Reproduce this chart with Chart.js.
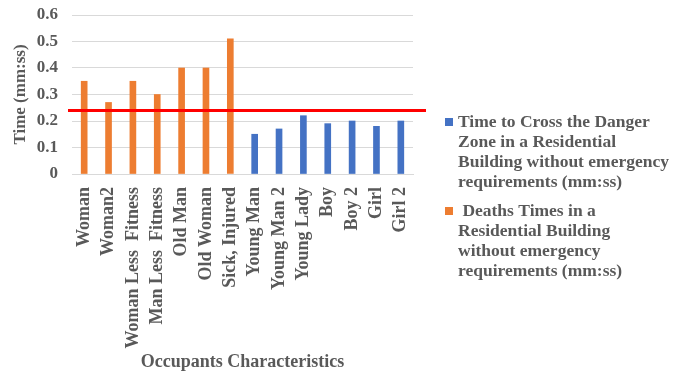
<!DOCTYPE html>
<html>
<head>
<meta charset="utf-8">
<script src="https://cdn.jsdelivr.net/npm/chart.js@4/dist/chart.umd.min.js"></script>
<style>
  html, body { margin: 0; padding: 0; background: #fff; }
  #wrap { width: 685px; height: 371px; }
</style>
</head>
<body>
<div id="wrap"><canvas id="occChart" width="685" height="371"></canvas></div>
<script>
const categories = ["Woman", "Woman2", "Woman Less  Fitness", "Man Less  Fitness", "Old Man", "Old Woman", "Sick, Injured",
  "Young Man", "Young Man 2", "Young Lady", "Boy", "Boy 2", "Girl", "Girl 2"];
const crossTimes = [null, null, null, null, null, null, null, 0.15, 0.17, 0.22, 0.19, 0.2, 0.18, 0.2];
const deathTimes = [0.35, 0.27, 0.35, 0.3, 0.4, 0.4, 0.51, null, null, null, null, null, null, null];
const yTicks = [0, 0.1, 0.2, 0.3, 0.4, 0.5, 0.6];
const thresholdValue = 0.24;
const crossLabel = ["Time to Cross the Danger", "Zone in a Residential", "Building without emergency", "requirements (mm:ss)"];
const deathLabel = [" Deaths Times in a", "Residential Building", "without emergency", "requirements (mm:ss)"];

const textGray = "#595959";
const fontFamily = "'Liberation Serif', 'Times New Roman', serif";
const serifBold = { family: fontFamily, size: 17, weight: "bold" };

// red reference line across the plot
const thresholdLine = {
  id: "thresholdLine",
  afterDatasetsDraw(chart) {
    const { ctx, chartArea, scales } = chart;
    const y = Math.round(scales.y.getPixelForValue(thresholdValue)) + 0.5;
    ctx.save();
    ctx.strokeStyle = "#ff0000";
    ctx.lineWidth = 3;
    ctx.beginPath();
    ctx.moveTo(chartArea.left - 4, y);
    ctx.lineTo(chartArea.right + 13, y);
    ctx.stroke();
    ctx.restore();
  }
};

// legend with wrapped lines, drawn at the right side
const sideLegend = {
  id: "sideLegend",
  afterDraw(chart) {
    const ctx = chart.ctx;
    const x0 = 445, lineH = 20;
    let y = 122;
    ctx.save();
    ctx.font = "bold 17.5px " + fontFamily;
    ctx.textBaseline = "middle";
    chart.data.datasets.forEach(ds => {
      ctx.fillStyle = ds.backgroundColor;
      ctx.fillRect(x0, y - 4, 8, 8);
      ctx.fillStyle = textGray;
      ds.legendLines.forEach((line, i) => {
        ctx.fillText(line, x0 + 13, y + i * lineH);
      });
      y += ds.legendLines.length * lineH + 9;
    });
    ctx.restore();
  }
};

new Chart(document.getElementById("occChart").getContext("2d"), {
  type: "bar",
  data: {
    labels: categories,
    datasets: [{
      label: crossLabel.join(" "),
      legendLines: crossLabel,
      data: crossTimes,
      backgroundColor: "#4472c4",
      barThickness: 6,
      skipNull: true
    }, {
      label: deathLabel.join(" "),
      legendLines: deathLabel,
      data: deathTimes,
      backgroundColor: "#ed7d31",
      barThickness: 6,
      skipNull: true
    }]
  },
  options: {
    responsive: false,
    animation: false,
    layout: { padding: { left: 0, right: 272, top: 15, bottom: 0 } },
    plugins: {
      legend: { display: false },
      tooltip: { enabled: false }
    },
    scales: {
      x: {
        afterFit(axis) { axis.height = 197; },
        grid: { display: false, drawTicks: false },
        border: { color: "#d9d9d9" },
        ticks: { color: textGray, font: { family: fontFamily, size: 18, weight: "bold" }, minRotation: 90, maxRotation: 90, padding: 13, autoSkip: false },
        title: { display: true, text: "Occupants Characteristics", color: textGray, font: { family: fontFamily, size: 18, weight: "bold", lineHeight: 1 }, padding: { top: 10, bottom: 0 } }
      },
      y: {
        min: 0,
        max: 0.6,
        afterFit(axis) { axis.width = 72; axis.paddingTop = 0; },
        afterBuildTicks(axis) { axis.ticks = yTicks.map(v => ({ value: v })); },
        grid: { color: "#d9d9d9", drawTicks: false },
        border: { display: false },
        ticks: { color: textGray, font: serifBold, padding: 14, callback: v => String(v) },
        title: { display: true, text: "Time (mm:ss)", color: textGray, font: { family: fontFamily, size: 17, weight: "bold", lineHeight: 1 }, padding: { top: 12, bottom: 0 } }
      }
    }
  },
  plugins: [thresholdLine, sideLegend]
});
</script>
</body>
</html>
